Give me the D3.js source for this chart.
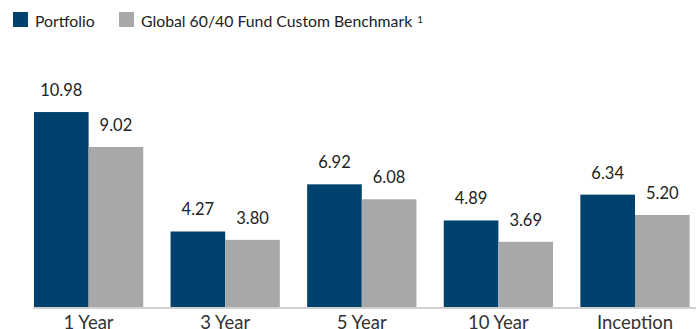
<!DOCTYPE html>
<html>
<head>
<meta charset="utf-8">
<script src="https://cdn.jsdelivr.net/npm/d3@7"></script>
<style>
  html, body { margin: 0; padding: 0; background: #fff; }
  svg { display: block; font-family: Lato, "Open Sans", sans-serif; }
</style>
</head>
<body>
<svg id="chart" width="696" height="329"></svg>
<script>
// Annualized returns (%) by period
const categories = ["1 Year", "3 Year", "5 Year", "10 Year", "Inception"];
const seriesNames = ["Portfolio", "Global 60/40 Fund Custom Benchmark"];
const portfolio = [10.98, 4.27, 6.92, 4.89, 6.34];
const benchmark = [9.02, 3.80, 6.08, 3.69, 5.20];
const colors = ["#00426e", "#a7a8aa"];

const svg = d3.select("#chart");
const W = 696, baseY = 307.5;

const x0 = d3.scaleBand()
  .domain(categories)
  .range([20.3, 703.3])
  .paddingInner(0.2)
  .paddingOuter(0.1);

const x1 = d3.scaleBand()
  .domain(seriesNames)
  .range([0, x0.bandwidth()]);

const y = d3.scaleLinear().domain([0, 12]).range([baseY, baseY - 12 * 17.8]);

const rows = categories.map((c, i) => ({
  cat: c,
  vals: [
    { s: seriesNames[0], v: portfolio[i], col: colors[0] },
    { s: seriesNames[1], v: benchmark[i], col: colors[1] }
  ]
}));

// Bars
const groups = svg.append("g").selectAll("g")
  .data(rows).join("g")
  .attr("transform", d => `translate(${x0(d.cat)},0)`);

groups.selectAll("rect")
  .data(d => d.vals).join("rect")
  .attr("x", d => x1(d.s))
  .attr("width", x1.bandwidth())
  .attr("y", d => y(d.v))
  .attr("height", d => y(0) - y(d.v))
  .attr("fill", d => d.col);

// Value labels
groups.selectAll("text")
  .data(d => d.vals).join("text")
  .attr("x", d => x1(d.s) + x1.bandwidth() / 2)
  .attr("y", d => y(d.v) - 16)
  .attr("text-anchor", "middle")
  .attr("font-size", 16.5)
  .attr("fill", "#222")
  .text(d => d.v.toFixed(2));

// Baseline axis
const xAxis = svg.append("g")
  .attr("transform", `translate(0,${baseY + 0.5})`)
  .call(d3.axisBottom(x0).tickSize(0).tickPadding(0));
xAxis.select(".domain").remove();
xAxis.append("line")
  .attr("x1", 33).attr("x2", W)
  .attr("stroke", "#d0d0d0").attr("stroke-width", 2);
xAxis.selectAll(".tick text")
  .attr("y", 20.5)
  .attr("dy", 0)
  .attr("font-size", 18.5)
  .attr("font-family", "Lato, 'Open Sans', sans-serif")
  .attr("fill", "#333");

// Legend
const legendX = [13, 119];
const leg = svg.append("g").selectAll("g")
  .data(seriesNames).join("g")
  .attr("transform", (d, i) => `translate(${legendX[i]},12)`);
leg.append("rect").attr("width", 15).attr("height", 15)
  .attr("fill", (d, i) => colors[i]);
const lt = leg.append("text")
  .attr("x", 22).attr("y", 14.5)
  .attr("font-size", 15.8)
  .attr("fill", "#222")
  .text(d => d);
lt.filter((d, i) => i === 1)
  .append("tspan")
  .attr("dx", 5).attr("dy", -4)
  .attr("font-size", 10)
  .text("1");
</script>
</body>
</html>
